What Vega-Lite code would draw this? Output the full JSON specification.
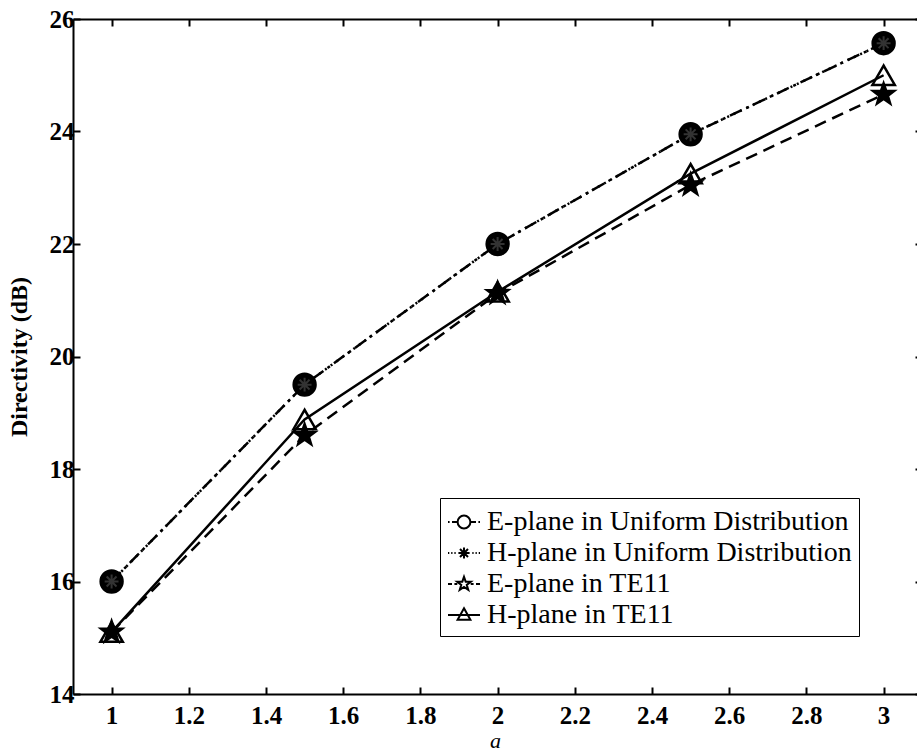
{
  "$schema": "https://vega.github.io/schema/vega-lite/v6.json",
  "autosize": {"type": "none"},
  "padding": {"left": 73, "top": 19, "right": 0, "bottom": 58},
  "width": 844,
  "height": 675,
  "background": "white",
  "config": {
    "view": {"stroke": null},
    "font": "Liberation Serif",
    "axis": {
      "grid": false,
      "domainColor": "black",
      "domainWidth": 2,
      "tickColor": "black",
      "tickWidth": 2,
      "tickSize": -7,
      "labelFont": "Liberation Serif",
      "labelFontSize": 25,
      "labelFontWeight": "bold",
      "labelColor": "black",
      "titleFont": "Liberation Serif",
      "titleColor": "black"
    }
  },
  "data": {
    "values": [
      {"a": 1, "D": 16.0, "series": "E-plane in Uniform Distribution"},
      {"a": 1.5, "D": 19.5, "series": "E-plane in Uniform Distribution"},
      {"a": 2, "D": 22.0, "series": "E-plane in Uniform Distribution"},
      {"a": 2.5, "D": 23.95, "series": "E-plane in Uniform Distribution"},
      {"a": 3, "D": 25.57, "series": "E-plane in Uniform Distribution"},
      {"a": 1, "D": 16.0, "series": "H-plane in Uniform Distribution"},
      {"a": 1.5, "D": 19.5, "series": "H-plane in Uniform Distribution"},
      {"a": 2, "D": 22.0, "series": "H-plane in Uniform Distribution"},
      {"a": 2.5, "D": 23.95, "series": "H-plane in Uniform Distribution"},
      {"a": 3, "D": 25.57, "series": "H-plane in Uniform Distribution"},
      {"a": 1, "D": 15.1, "series": "E-plane in TE11"},
      {"a": 1.5, "D": 18.6, "series": "E-plane in TE11"},
      {"a": 2, "D": 21.12, "series": "E-plane in TE11"},
      {"a": 2.5, "D": 23.05, "series": "E-plane in TE11"},
      {"a": 3, "D": 24.66, "series": "E-plane in TE11"},
      {"a": 1, "D": 15.1, "series": "H-plane in TE11"},
      {"a": 1.5, "D": 18.88, "series": "H-plane in TE11"},
      {"a": 2, "D": 21.15, "series": "H-plane in TE11"},
      {"a": 2.5, "D": 23.25, "series": "H-plane in TE11"},
      {"a": 3, "D": 25.0, "series": "H-plane in TE11"}
    ]
  },
  "resolve": {"axis": {"x": "independent", "y": "independent"}},
  "layer": [
    {
      "transform": [{"filter": "datum.series === 'E-plane in Uniform Distribution'"}],
      "mark": {"type": "line", "color": "black", "strokeWidth": 2.5, "strokeDash": [13, 5, 3, 5]},
      "encoding": {
        "x": {
          "field": "a", "type": "quantitative",
          "scale": {"domain": [0.9, 3.0865], "nice": false, "zero": false},
          "axis": {"orient": "bottom", "values": [1, 1.2, 1.4, 1.6, 1.8, 2, 2.2, 2.4, 2.6, 2.8, 3], "format": "~g", "labelPadding": 16, "title": "a", "titleFontSize": 22, "titleFontStyle": "italic", "titleFontWeight": "normal", "titlePadding": 2}
        },
        "y": {
          "field": "D", "type": "quantitative",
          "scale": {"domain": [14, 26], "nice": false, "zero": false},
          "axis": {"orient": "left", "values": [14, 16, 18, 20, 22, 24, 26], "format": "~g", "labelPadding": 6, "title": "Directivity (dB)", "titleFontSize": 24, "titleFontWeight": "bold", "titlePadding": 18}
        }
      }
    },
    {
      "transform": [{"filter": "datum.series === 'H-plane in Uniform Distribution'"}],
      "mark": {"type": "line", "color": "black", "strokeWidth": 2.5, "strokeDash": [2, 5]},
      "encoding": {
        "x": {"field": "a", "type": "quantitative", "axis": null},
        "y": {"field": "D", "type": "quantitative", "axis": null}
      }
    },
    {
      "transform": [{"filter": "datum.series === 'E-plane in TE11'"}],
      "mark": {"type": "line", "color": "black", "strokeWidth": 2.5, "strokeDash": [12, 7]},
      "encoding": {
        "x": {"field": "a", "type": "quantitative", "axis": null},
        "y": {"field": "D", "type": "quantitative", "axis": null}
      }
    },
    {
      "transform": [{"filter": "datum.series === 'H-plane in TE11'"}],
      "mark": {"type": "line", "color": "black", "strokeWidth": 2.5},
      "encoding": {
        "x": {"field": "a", "type": "quantitative", "axis": null},
        "y": {"field": "D", "type": "quantitative", "axis": null}
      }
    },
    {
      "transform": [{"filter": "datum.series === 'E-plane in Uniform Distribution'"}],
      "mark": {"type": "point", "shape": "circle", "filled": true, "fill": "black", "stroke": "black", "strokeWidth": 2.5, "opacity": 1, "size": 480},
      "encoding": {
        "x": {
          "field": "a", "type": "quantitative",
          "axis": {"orient": "top", "values": [1, 1.2, 1.4, 1.6, 1.8, 2, 2.2, 2.4, 2.6, 2.8, 3], "labels": false, "title": null}
        },
        "y": {
          "field": "D", "type": "quantitative",
          "axis": {"orient": "right", "values": [14, 16, 18, 20, 22, 24, 26], "labels": false, "title": null, "offset": 5}
        }
      }
    },
    {
      "transform": [{"filter": "datum.series === 'H-plane in Uniform Distribution'"}],
      "mark": {"type": "point", "shape": "M-0.8,0H0.8M0,-0.8V0.8M-0.57,-0.57L0.57,0.57M-0.57,0.57L0.57,-0.57", "filled": false, "stroke": "#333333", "strokeWidth": 2, "opacity": 1, "size": 300},
      "encoding": {
        "x": {"field": "a", "type": "quantitative", "axis": null},
        "y": {"field": "D", "type": "quantitative", "axis": null}
      }
    },
    {
      "transform": [{"filter": "datum.series === 'E-plane in TE11'"}],
      "mark": {"type": "point", "shape": "M0,-1L0.235,-0.324L0.951,-0.309L0.38,0.124L0.588,0.809L0,0.4L-0.588,0.809L-0.38,0.124L-0.951,-0.309L-0.235,-0.324Z", "filled": true, "fill": "black", "stroke": "black", "strokeWidth": 2, "opacity": 1, "size": 560},
      "encoding": {
        "x": {"field": "a", "type": "quantitative", "axis": null},
        "y": {"field": "D", "type": "quantitative", "axis": null}
      }
    },
    {
      "transform": [{"filter": "datum.series === 'H-plane in TE11'"}],
      "mark": {"type": "point", "shape": "triangle-up", "filled": false, "stroke": "black", "strokeWidth": 2.5, "opacity": 1, "size": 500},
      "encoding": {
        "x": {"field": "a", "type": "quantitative", "axis": null},
        "y": {"field": "D", "type": "quantitative", "axis": null}
      }
    },
    {
      "transform": [{"filter": "false"}],
      "mark": {"type": "point", "filled": false, "stroke": "black", "strokeWidth": 2, "opacity": 1},
      "encoding": {
        "x": {"field": "a", "type": "quantitative", "axis": null},
        "y": {"field": "D", "type": "quantitative", "axis": null},
        "shape": {
          "field": "series", "type": "nominal",
          "scale": {
            "domain": ["E-plane in Uniform Distribution", "H-plane in Uniform Distribution", "E-plane in TE11", "H-plane in TE11"],
            "range": [
              "M-1,0H-0.9M-0.75,0H-0.4M0.4,0H0.75M0.9,0H1M0.4,0A0.4,0.4 0 1 1 -0.4,0A0.4,0.4 0 1 1 0.4,0Z",
              "M-1,0H-0.92M-0.8,0H-0.72M-0.6,0H-0.52M0.52,0H0.6M0.72,0H0.8M0.92,0H1M-0.35,0H0.35M0,-0.35V0.35M-0.25,-0.25L0.25,0.25M-0.25,0.25L0.25,-0.25",
              "M-1,0H-0.75M-0.6,0H-0.42M0.42,0H0.6M0.75,0H1M0,-0.45L0.106,-0.146L0.428,-0.139L0.171,0.056L0.265,0.364L0,0.18L-0.265,0.364L-0.171,0.056L-0.428,-0.139L-0.106,-0.146Z",
              "M-1,0H1M0,-0.42L0.4,0.3L-0.4,0.3Z"
            ]
          },
          "legend": {
            "title": null,
            "orient": "none",
            "legendX": 367,
            "legendY": 479,
            "symbolSize": 1024,
            "symbolStrokeWidth": 2,
            "symbolStrokeColor": "black",
            "labelFont": "Liberation Serif",
            "labelFontSize": 28,
            "labelColor": "black",
            "labelLimit": 1000,
            "labelOffset": 6,
            "strokeColor": "black",
            "fillColor": "white",
            "padding": 7,
            "rowPadding": 0
          }
        }
      }
    }
  ]
}
